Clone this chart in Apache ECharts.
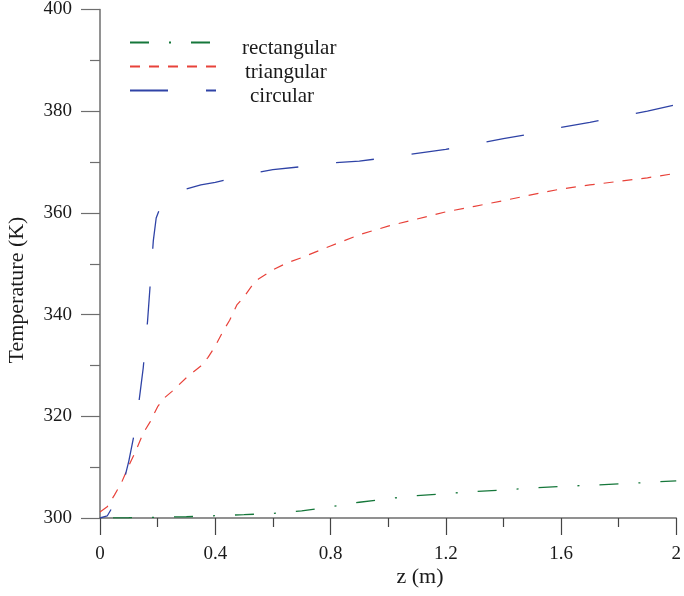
<!DOCTYPE html>
<html>
<head>
<meta charset="utf-8">
<script src="https://cdn.jsdelivr.net/npm/echarts@6/dist/echarts.min.js"></script>
<style>html,body{margin:0;padding:0;background:#fff;}#c{width:684px;height:596px;}</style>
</head>
<body>
<div id="c"></div>
<script>
// z (m), Temperature (K)
const rectZ = [0, 0.1, 0.2, 0.3, 0.4, 0.5, 0.6, 0.7, 0.8, 0.9, 1.0, 1.1, 1.2, 1.3, 1.4, 1.5, 1.6, 1.7, 1.8, 1.9, 2.0];
const rectT = [300, 300.05, 300.15, 300.25, 300.45, 300.65, 300.9, 301.4, 302.2, 303.1, 303.8, 304.4, 304.8, 305.2, 305.5, 305.9, 306.2, 306.45, 306.7, 307.0, 307.3];

const triZ = [0, 0.025, 0.05, 0.075, 0.1, 0.125, 0.15, 0.175, 0.2, 0.225, 0.25, 0.3, 0.35, 0.375, 0.4, 0.425, 0.45, 0.475, 0.5, 0.525, 0.55, 0.6, 0.65, 0.7, 0.8, 0.9, 1.0, 1.1, 1.2, 1.3, 1.4, 1.5, 1.6, 1.7, 1.8, 1.9, 2.0];
const triT = [301.2, 302.2, 304.5, 307.0, 310.3, 313.3, 316.7, 319.0, 321.9, 323.7, 324.9, 327.6, 329.9, 331.6, 333.8, 336.5, 338.9, 341.9, 343.5, 345.5, 347.0, 348.8, 350.2, 351.2, 353.5, 355.7, 357.4, 358.8, 360.2, 361.3, 362.4, 363.6, 364.7, 365.5, 366.2, 366.9, 367.8];

const circZ = [0, 0.025, 0.05, 0.075, 0.1, 0.125, 0.14, 0.15, 0.165, 0.175, 0.185, 0.195, 0.21, 0.225, 0.25, 0.3, 0.35, 0.4, 0.45, 0.5, 0.6, 0.7, 0.8, 0.9, 1.0, 1.1, 1.2, 1.3, 1.4, 1.5, 1.6, 1.7, 1.8, 1.9, 2.0];
const circT = [300, 300.4, 302.8, 305.4, 311.2, 318.3, 325.0, 329.5, 338.7, 346.5, 354.5, 359.0, 361.2, 362.6, 363.8, 364.7, 365.5, 366.0, 366.7, 367.5, 368.5, 369.1, 369.8, 370.2, 370.9, 371.7, 372.5, 373.5, 374.6, 375.6, 376.8, 377.8, 378.9, 380.0, 381.3];

const seriesNames = ['rectangular', 'triangular', 'circular'];
const xTitle = 'z (m)';
const yTitle = 'Temperature (K)';

const pairs = (xs, ys) => xs.map((x, i) => [x, ys[i]]);
const FONT = '"Liberation Serif", "Times New Roman", serif';
const AX = '#6e6e6e';
const TXT = '#1a1a1a';

const chart = echarts.init(document.getElementById('c'), null, {renderer: 'canvas'});

function legendFor(name, top) {
  return {
    data: [name], left: 129, top: top, orient: 'vertical',
    itemWidth: 86, itemHeight: 14, padding: 0, selectedMode: false,
    itemStyle: {opacity: 0, borderWidth: 0},
    lineStyle: {dashOffset: 0},
    formatter: () => '',
    textStyle: {fontSize: 1, lineHeight: 1}
  };
}
function legendText(name, x, y) {
  return {type: 'text', x: x, y: y, silent: true,
    style: {text: name, font: '21px ' + FONT, fill: TXT, align: 'left', verticalAlign: 'middle'}};
}

chart.setOption({
  animation: false,
  backgroundColor: '#fff',
  grid: {left: 100, right: 7, top: 7, bottom: 78, containLabel: false},
  legend: [
    legendFor(seriesNames[0], 37),
    legendFor(seriesNames[1], 61),
    legendFor(seriesNames[2], 85)
  ],
  xAxis: {
    type: 'value', min: 0, max: 2, interval: 0.4,
    axisLine: {show: true, onZero: false, lineStyle: {color: AX, width: 1.5}},
    axisTick: {show: true, inside: false, length: 17, lineStyle: {color: '#444', width: 1.2}},
    minorTick: {show: true, splitNumber: 2, length: 9, lineStyle: {color: '#444', width: 1.2}},
    splitLine: {show: false},
    axisLabel: {margin: 27, fontFamily: FONT, fontSize: 19, color: TXT,
      formatter: v => (Math.round(v * 10) / 10).toString()}
  },
  yAxis: {
    type: 'value', min: 300, max: 400, interval: 20,
    axisLine: {show: true, onZero: false, lineStyle: {color: AX, width: 1.5}},
    axisTick: {show: true, inside: false, length: 19, lineStyle: {color: AX, width: 1.2}},
    minorTick: {show: true, splitNumber: 2, length: 10, lineStyle: {color: AX, width: 1.2}},
    splitLine: {show: false},
    axisLabel: {margin: 28, fontFamily: FONT, fontSize: 19, color: TXT}
  },
  graphic: [
    {type: 'text', x: 420, y: 577, style: {text: xTitle, font: '22px ' + FONT, fill: TXT, align: 'center', verticalAlign: 'middle'}},
    {type: 'text', x: 17, y: 290, rotation: Math.PI / 2, style: {text: yTitle, font: '22px ' + FONT, fill: TXT, align: 'center', verticalAlign: 'middle'}},
    legendText(seriesNames[0], 242, 48),
    legendText(seriesNames[1], 245, 72),
    legendText(seriesNames[2], 250, 96)
  ],
  series: [
    {name: seriesNames[0], type: 'line', data: pairs(rectZ, rectT), showSymbol: false, symbol: 'none',
      lineStyle: {color: '#15773a', width: 1.3, type: [19, 20, 2, 20], dashOffset: 48}, itemStyle: {color: '#15773a'}},
    {name: seriesNames[1], type: 'line', data: pairs(triZ, triT), showSymbol: false, symbol: 'none',
      lineStyle: {color: '#e8423a', width: 1.2, type: [10, 9]}, itemStyle: {color: '#e8423a'}},
    {name: seriesNames[2], type: 'line', data: pairs(circZ, circT), showSymbol: false, symbol: 'none',
      lineStyle: {color: '#2f43a6', width: 1.3, type: [38, 38], dashOffset: 23}, itemStyle: {color: '#2f43a6'}}
  ]
});
</script>
</body>
</html>
